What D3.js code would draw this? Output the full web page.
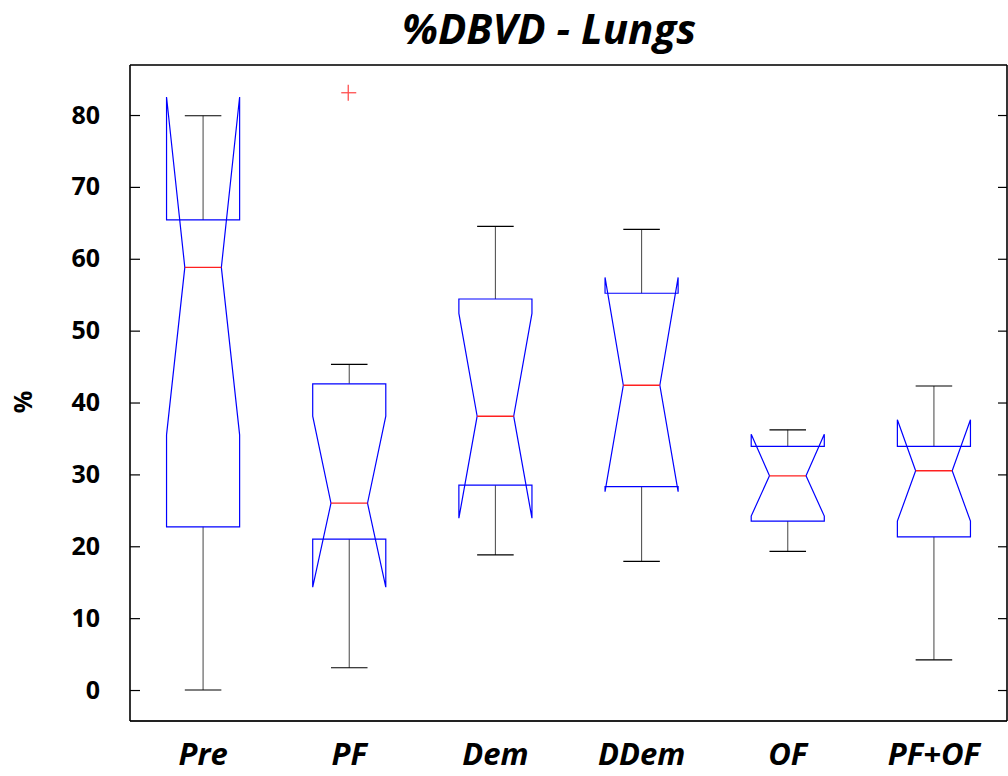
<!DOCTYPE html>
<html>
<head>
<meta charset="utf-8">
<script src="https://cdn.jsdelivr.net/npm/d3@7/dist/d3.min.js"></script>
<style>
  html, body { margin: 0; padding: 0; background: #fff; }
  svg { display: block; }
  text { font-family: "Open Sans", "Noto Sans", sans-serif; font-weight: 700; fill: #000; }
</style>
</head>
<body>
<svg id="chart" width="1008" height="776"></svg>
<script>
// Groups and their box statistics (%DBVD, lungs)
const categories  = ["Pre", "PF", "Dem", "DDem", "OF", "PF+OF"];
const whiskerLow  = [0.0, 3.1, 18.8, 17.9, 19.3, 4.2];
const q1          = [22.7, 21.0, 28.5, 28.3, 23.5, 21.3];
const median      = [58.8, 26.0, 38.1, 42.4, 29.8, 30.5];
const q3          = [65.4, 42.6, 54.4, 55.2, 33.9, 33.9];
const whiskerHigh = [79.9, 45.3, 64.5, 64.1, 36.2, 42.3];
const notchLow    = [35.5, 14.3, 23.9, 27.6, 24.2, 23.5];
const notchHigh   = [82.5, 38.1, 52.4, 57.4, 35.6, 37.6];
const outlierCats   = ["PF"];
const outlierValues = [83.1];
const yTicks = [0, 10, 20, 30, 40, 50, 60, 70, 80];

const boxes = categories.map((c, i) => ({
  cat: c, lo: whiskerLow[i], q1: q1[i], med: median[i], q3: q3[i],
  hi: whiskerHigh[i], nlo: notchLow[i], nhi: notchHigh[i]
}));

const svg = d3.select("#chart");
const plotLeft = 130, plotRight = 1007, plotTop = 65, plotBottom = 721;

const x = d3.scaleBand().domain(categories).range([plotLeft, plotRight]).padding(0);
const y = d3.scaleLinear().domain([-4.31, 86.96]).range([plotBottom, plotTop]);

const boxHalf = x.bandwidth() * 0.25;
const notchHalf = boxHalf * 0.5;
const capHalf = boxHalf * 0.5;
const cx = d => x(d.cat) + x.bandwidth() / 2;

// Title
svg.append("text")
  .attr("x", 549).attr("y", 44)
  .attr("text-anchor", "middle")
  .style("font-size", "42px").style("font-style", "italic")
  .text("%DBVD - Lungs");

// Y axis label
svg.append("text")
  .attr("transform", "translate(32,402) rotate(-90)")
  .attr("text-anchor", "middle")
  .style("font-size", "25px")
  .text("%");

// Left axis with inward ticks
const yLeft = svg.append("g").attr("transform", `translate(${plotLeft},0)`)
  .call(d3.axisLeft(y).tickValues(yTicks).tickSize(-10).tickPadding(30));
yLeft.select(".domain").remove();
yLeft.selectAll(".tick line").attr("stroke", "#000").attr("stroke-width", 1.2);
yLeft.selectAll(".tick text")
  .attr("x", -30)
  .style("font-size", "25px").style("font-family", "'Open Sans', sans-serif")
  .style("font-weight", 700).attr("fill", "#000");

// Right axis ticks
const yRight = svg.append("g").attr("transform", `translate(${plotRight},0)`)
  .call(d3.axisRight(y).tickValues(yTicks).tickSize(-9).tickFormat(""));
yRight.select(".domain").remove();
yRight.selectAll(".tick line").attr("stroke", "#000").attr("stroke-width", 1.2);

// Category labels
const xAxis = svg.append("g").attr("transform", `translate(0,${plotBottom})`)
  .call(d3.axisBottom(x).tickSize(0).tickPadding(22));
xAxis.select(".domain").remove();
xAxis.selectAll(".tick text")
  .attr("dy", "0.71em")
  .style("font-size", "31px").style("font-style", "italic")
  .style("font-family", "'Open Sans', sans-serif").style("font-weight", 700)
  .attr("fill", "#000");

// Frame
svg.append("line").attr("x1", plotLeft).attr("x2", plotRight).attr("y1", plotTop).attr("y2", plotTop)
  .attr("stroke", "#3a3a3a").attr("stroke-width", 2.2);
svg.append("line").attr("x1", plotLeft).attr("x2", plotRight).attr("y1", plotBottom).attr("y2", plotBottom)
  .attr("stroke", "#222").attr("stroke-width", 2);
svg.append("line").attr("x1", plotLeft).attr("x2", plotLeft).attr("y1", plotTop).attr("y2", plotBottom)
  .attr("stroke", "#000").attr("stroke-width", 1.6);
svg.append("line").attr("x1", plotRight).attr("x2", plotRight).attr("y1", plotTop).attr("y2", plotBottom)
  .attr("stroke", "#000").attr("stroke-width", 1.6);

const g = svg.append("g");
const boxG = g.selectAll("g.box").data(boxes).join("g").attr("class", "box");

// Whiskers
boxG.append("line")
  .attr("x1", cx).attr("x2", cx)
  .attr("y1", d => y(d.q3)).attr("y2", d => y(d.hi))
  .attr("stroke", "#555").attr("stroke-width", 1.1);
boxG.append("line")
  .attr("x1", cx).attr("x2", cx)
  .attr("y1", d => y(d.q1)).attr("y2", d => y(d.lo))
  .attr("stroke", "#555").attr("stroke-width", 1.1);
boxG.append("line")
  .attr("x1", d => cx(d) - capHalf).attr("x2", d => cx(d) + capHalf)
  .attr("y1", d => y(d.hi)).attr("y2", d => y(d.hi))
  .attr("stroke", "#000").attr("stroke-width", 1.2);
boxG.append("line")
  .attr("x1", d => cx(d) - capHalf).attr("x2", d => cx(d) + capHalf)
  .attr("y1", d => y(d.lo)).attr("y2", d => y(d.lo))
  .attr("stroke", "#000").attr("stroke-width", 1.2);

// Notched boxes
const line = d3.line();
boxG.append("path")
  .attr("d", d => {
    const c = cx(d);
    const L = c - boxHalf, R = c + boxHalf;
    return line([
      [L, y(d.q1)], [L, y(d.nlo)], [c - notchHalf, y(d.med)], [L, y(d.nhi)], [L, y(d.q3)],
      [R, y(d.q3)], [R, y(d.nhi)], [c + notchHalf, y(d.med)], [R, y(d.nlo)], [R, y(d.q1)]
    ]) + "Z";
  })
  .attr("fill", "none").attr("stroke", "#0000ff").attr("stroke-width", 1.2)
  .attr("stroke-linejoin", "miter");

// Medians
boxG.append("line")
  .attr("x1", d => cx(d) - notchHalf).attr("x2", d => cx(d) + notchHalf)
  .attr("y1", d => y(d.med)).attr("y2", d => y(d.med))
  .attr("stroke", "#ff2020").attr("stroke-width", 1.4);

// Outliers
const outliers = outlierCats.map((c, i) => ({ cat: c, value: outlierValues[i] }));
const og = g.selectAll("g.outlier").data(outliers).join("g").attr("class", "outlier")
  .attr("transform", d => `translate(${cx(d) - 1},${y(d.value)})`);
og.append("line").attr("x1", -7).attr("x2", 8).attr("y1", 0).attr("y2", 0)
  .attr("stroke", "#ff5050").attr("stroke-width", 1.3);
og.append("line").attr("x1", 0).attr("x2", 0).attr("y1", -8).attr("y2", 8)
  .attr("stroke", "#ff5050").attr("stroke-width", 1.3);
</script>
</body>
</html>
